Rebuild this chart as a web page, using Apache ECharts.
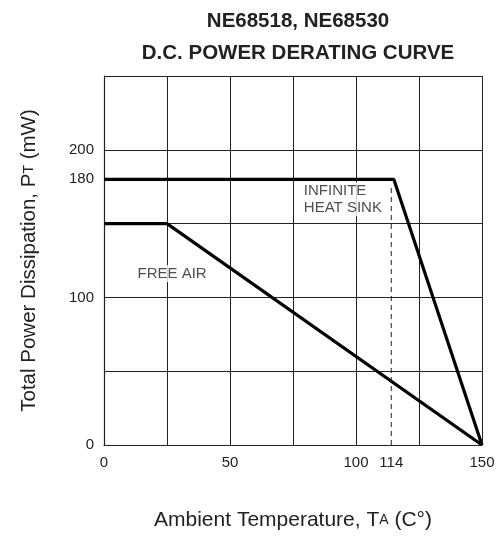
<!DOCTYPE html>
<html>
<head>
<meta charset="utf-8">
<script src="https://cdn.jsdelivr.net/npm/echarts@6/dist/echarts.min.js"></script>
<style>html,body{margin:0;padding:0;background:#fff}#c{width:501px;height:540px}</style>
</head>
<body>
<div id="c"></div>
<script>
// Data
const titleLines = ['NE68518, NE68530', 'D.C. POWER DERATING CURVE'];
const xTickLabels = [0, 50, 100, 114, 150];
const yTickLabels = [0, 100, 180, 200];
const infiniteHeatSink = [[0, 180], [115, 180], [150, 0]];
const freeAir = [[0, 150], [25, 150], [150, 0]];
const markerLine = [[114, 0], [114, 175]];
const annotations = [
  { name: 'INFINITE\nHEAT SINK', value: [78.5, 178] },
  { name: 'FREE AIR', value: [12.5, 122] }
];

const FONT = 'Liberation Sans, Arial, sans-serif';
const chart = echarts.init(document.getElementById('c'));
chart.setOption({
  animation: false,
  backgroundColor: '#fff',
  title: {
    text: titleLines.join('\n'),
    left: 293, top: 1, textAlign: 'center',
    textStyle: { fontFamily: FONT, fontSize: 20.5, fontWeight: 'bold', color: '#222', lineHeight: 31.5 }
  },
  grid: { left: 104, right: 19, top: 76, bottom: 95 },
  xAxis: {
    type: 'value', min: 0, max: 150, interval: 25,
    name: 'Ambient Temperature, T{s|A} (C°)',
    nameLocation: 'middle', nameGap: 65,
    nameTextStyle: { fontFamily: FONT, fontSize: 21, color: '#222',
      rich: { s: { fontFamily: FONT, fontSize: 14, color: '#222' } } },
    axisLine: { show: true, lineStyle: { color: '#222', width: 1.2 } },
    axisTick: { show: false },
    axisLabel: { customValues: xTickLabels, fontFamily: FONT, fontSize: 15, color: '#222', margin: 10 },
    splitLine: { show: true, lineStyle: { color: '#222', width: 1 } }
  },
  yAxis: {
    type: 'value', min: 0, max: 250, interval: 50,
    name: 'Total Power Dissipation, P{s|T} (mW)',
    nameLocation: 'middle', nameGap: 64, nameRotate: 90,
    nameTextStyle: { fontFamily: FONT, fontSize: 20.5, color: '#222',
      rich: { s: { fontFamily: FONT, fontSize: 14, color: '#222' } } },
    axisLine: { show: true, lineStyle: { color: '#222', width: 1.2 } },
    axisTick: { show: false },
    axisLabel: { customValues: yTickLabels, fontFamily: FONT, fontSize: 15, color: '#222', margin: 10 },
    splitLine: { show: true, lineStyle: { color: '#222', width: 1 } }
  },
  series: [
    { type: 'scatter', data: annotations, symbolSize: 0, z: 3,
      label: { show: true, position: 'inside', align: 'left', verticalAlign: 'top',
        formatter: p => p.name, fontFamily: FONT, fontSize: 15, color: '#222', lineHeight: 17,
        backgroundColor: '#fff', padding: [0, 2, 0, 2] } },
    { type: 'line', data: infiniteHeatSink, symbol: 'none', lineStyle: { color: '#000', width: 3.2 }, z: 5 },
    { type: 'line', data: freeAir, symbol: 'none', lineStyle: { color: '#000', width: 3.2 }, z: 5 },
    { type: 'line', data: markerLine, symbol: 'none', lineStyle: { color: '#222', width: 1, type: [5, 4] }, z: 4 }
  ]
});
</script>
</body>
</html>
